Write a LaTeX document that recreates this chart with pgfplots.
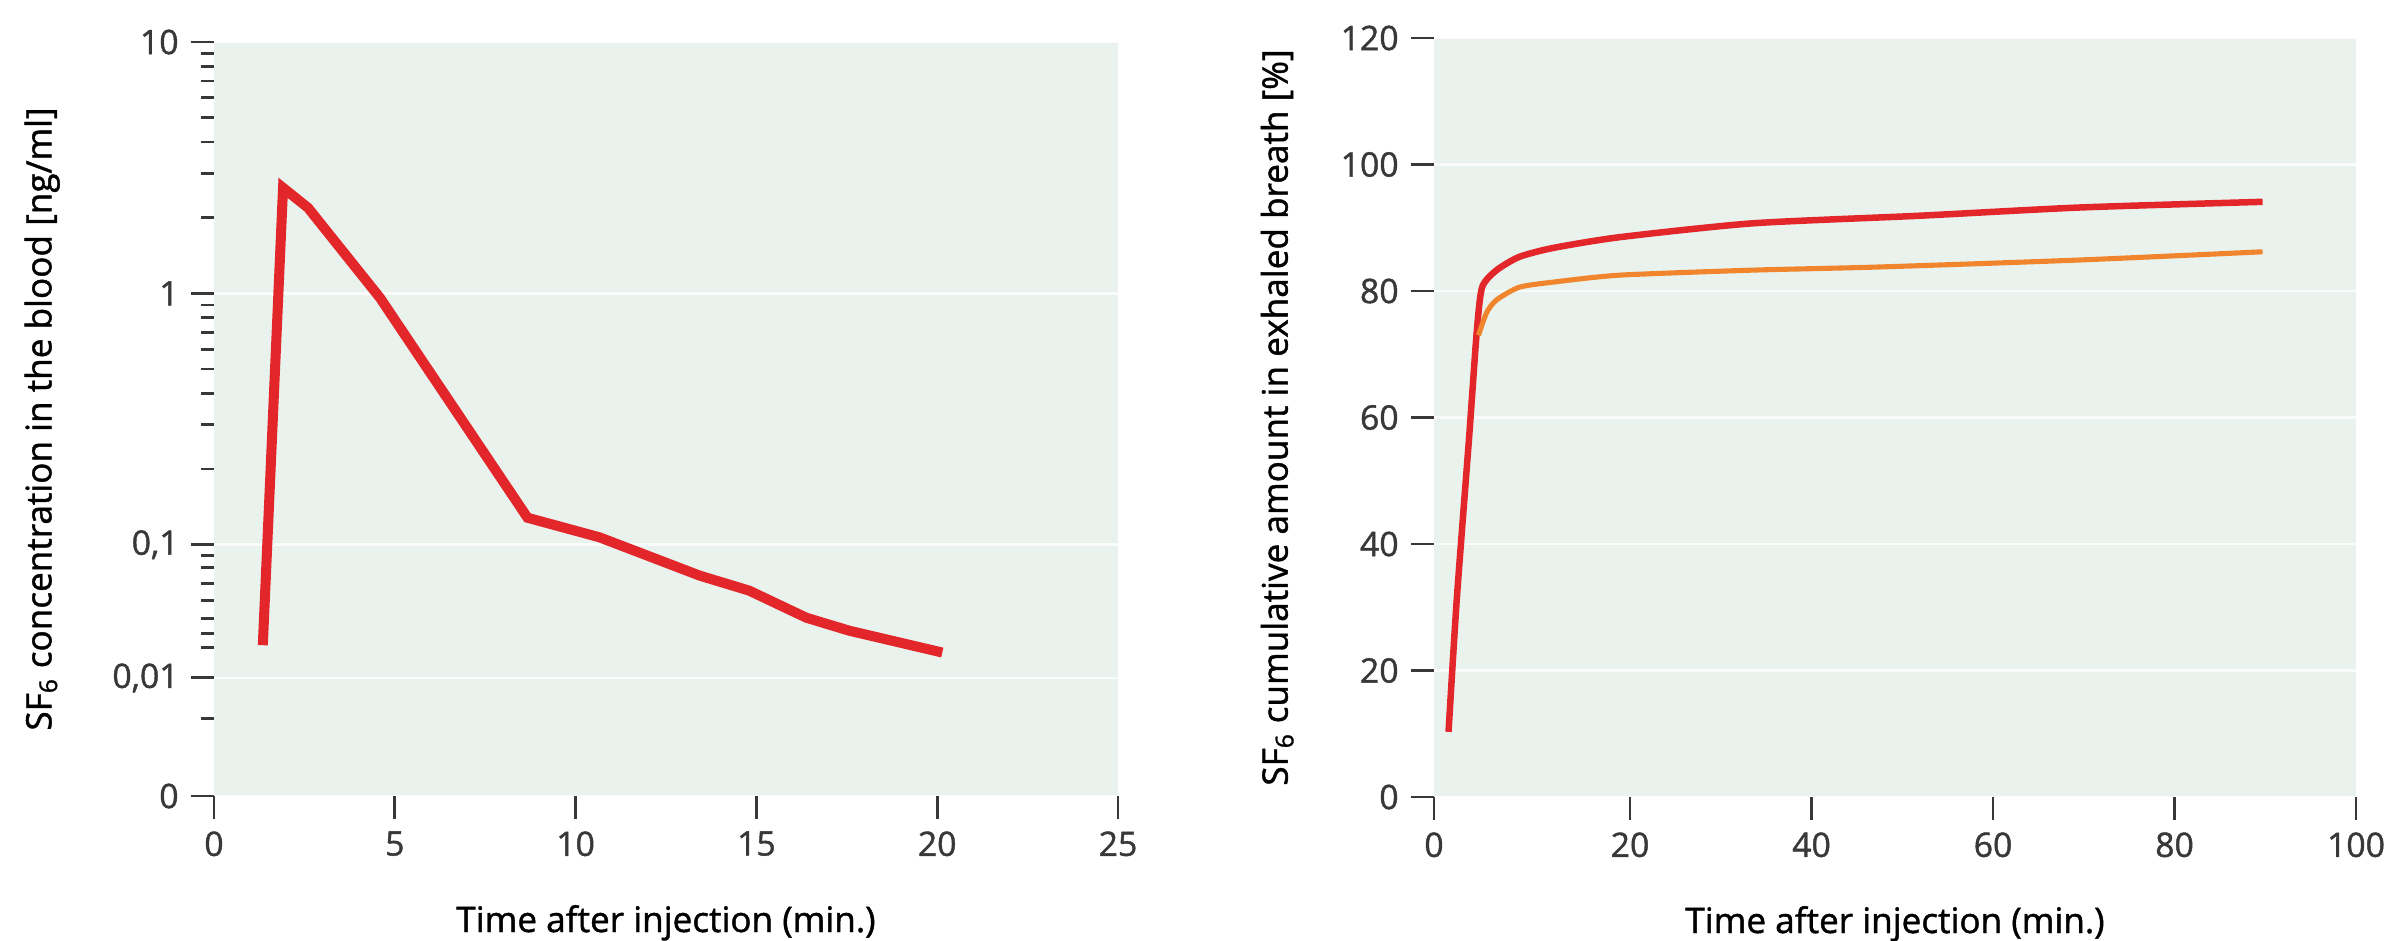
\documentclass[border=0pt]{standalone}
\usepackage{fontspec}
\setmainfont{Open Sans}[UprightFeatures={FakeBold=1.2}]
\usepackage{pgfplots}
\pgfplotsset{compat=1.18}

\definecolor{bgmint}{HTML}{E9F2ED}
\definecolor{curvered}{HTML}{E2262A}
\definecolor{curveorange}{HTML}{F0852D}
\definecolor{tickgray}{HTML}{383838}

\pgfplotsset{
  sfpanel/.style={
    scale only axis,
    anchor=south west,
    axis line style={draw=none},
    axis background/.style={fill=bgmint},
    tick pos=left, tick align=outside,
    major tick length=2.3mm, minor tick length=1.3mm,
    tick style={tickgray, line width=0.8pt},
    ymajorgrids, major grid style={white, line width=0.7pt, opacity=0.8},
    tick label style={font=\fontsize{9.6}{11}\selectfont, text=tickgray},
    xlabel style={font=\fontsize{10.3}{12}\selectfont, text=tickgray},
    ylabel style={font=\fontsize{9.6}{11}\selectfont, text=tickgray},
    /pgf/number format/assume math mode=true,
    every axis x label/.style={at={(axis description cs:0.5,0)}, anchor=base, yshift=-13.6mm},
  }
}

% blood concentration [ng/ml] vs time [min]
\pgfplotstableread{
t     c
1.35  0.0176
1.91  2.63
2.60  2.19
4.59  0.96
8.67  0.128
10.66 0.107
13.43 0.0586
14.80 0.0452
16.38 0.0283
17.57 0.0226
20.14 0.0155
}\bloodtab

% cumulative exhaled amount [%]
\pgfplotstableread{
t    p
0.0  10.3
0.9  31.1
2.3  57.5
3.1  73.4
3.7  80.6
5.3  83.3
7.8  85.4
11.5 86.8
18.8 88.5
33.5 90.7
51.9 91.9
69.5 93.2
89.7 94.1
}\breathA

\pgfplotstableread{
t    p
3.3  73.0
4.2  76.6
5.3  78.6
7.8  80.6
11.5 81.4
18.8 82.5
33.5 83.3
47.5 83.8
69.5 84.9
89.7 86.2
}\breathB

\begin{document}
\begin{tikzpicture}
\useasboundingbox (0,0) rectangle (238.5mm,94mm);

% left panel: axis is log-like from 10 down to 0.1, compressed below
\begin{axis}[sfpanel,
  at={(21.4mm,14.4mm)}, width=90.4mm, height=75.4mm,
  xmin=0, xmax=25, ymin=-2, ymax=1,
  xtick={0,5,...,25},
  ytick={-2,-1.53,-1,0,1},
  yticklabels={0,{0,01},{0,1},1,10},
  minor ytick={0.301,0.477,0.602,0.699,0.778,0.845,0.903,0.954,
    -0.699,-0.523,-0.398,-0.301,-0.222,-0.155,-0.097,-0.046,
    -1.044,-1.092,-1.155,-1.223,-1.294,-1.354,-1.41,-1.69},
  every axis y label/.style={at={(axis description cs:-0.190,0.5)}, rotate=90, anchor=center},
  xlabel={Time after injection (min.)},
  ylabel={SF\textsubscript{6} concentration in the blood [ng/ml]},
]
\addplot[curvered, line width=2.85pt,
  y filter/.expression={y>=0.1 ? ln(y)/ln(10) : -1+0.53*(ln(y)/ln(10)+1)}]
  table[x=t, y=c] {\bloodtab};
\end{axis}

% right panel
\begin{axis}[sfpanel,
  at={(143.4mm,14.3mm)}, width=92.2mm, height=75.9mm,
  xmin=-1.6, xmax=100, ymin=0, ymax=120,
  xtick={-1.6,20,40,60,80,100},
  xticklabels={0,20,40,60,80,100},
  ytick={0,20,...,120},
  every axis y label/.style={at={(axis description cs:-0.170,0.5)}, rotate=90, anchor=center},
  xlabel={Time after injection (min.)},
  ylabel={SF\textsubscript{6} cumulative amount in exhaled breath [\%]},
]
\addplot[curvered, line width=1.85pt, smooth, tension=0.4] table[x=t, y=p] {\breathA};
\addplot[curveorange, line width=1.45pt, smooth, tension=0.4] table[x=t, y=p] {\breathB};
\end{axis}
\end{tikzpicture}
\end{document}
